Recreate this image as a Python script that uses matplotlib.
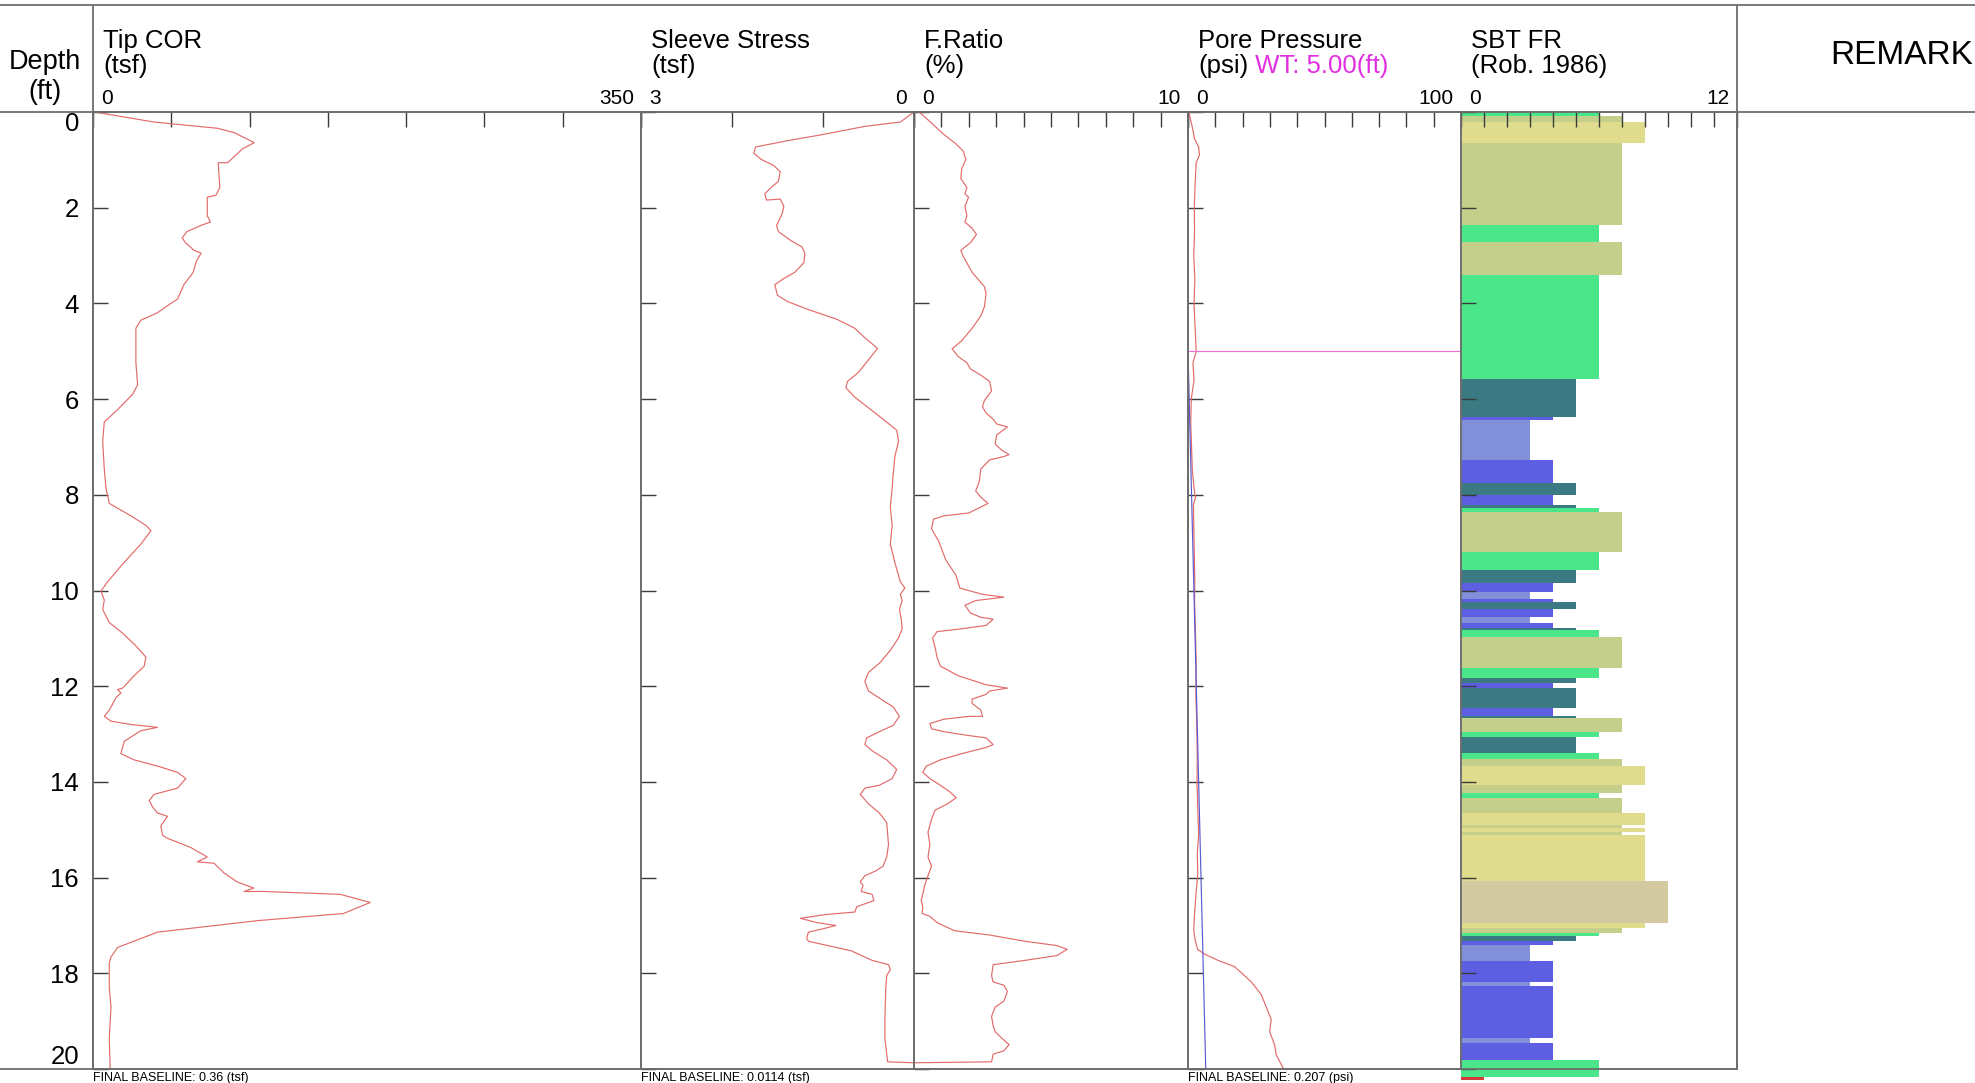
import matplotlib
matplotlib.use('Agg')
import matplotlib.pyplot as plt

plt.rcParams['font.family'] = ['Liberation Sans', 'DejaVu Sans']

W, H = 1975, 1083
TOP, BOT = 112, 1069          # pixel rows of the plotting area

# ---- CPT readings (depth in ft) ----
tip_depth = [0.0, 0.21, 0.34, 0.43, 0.64, 0.77, 1.06, 1.06, 1.58, 1.74, 1.78, 2.17, 2.30, 2.37,
             2.50, 2.63, 2.73, 2.89, 2.95, 3.12, 3.35, 3.61, 3.91, 4.0, 4.2, 4.35, 4.52, 5.24,
             5.70, 5.9, 6.22, 6.48, 6.88, 7.46, 7.86, 8.18, 8.44, 8.64, 8.75, 9.03, 9.49, 9.82,
             10.01, 10.2, 10.4, 10.67, 10.86, 11.12, 11.39, 11.58, 11.78, 12.04, 12.07, 12.14,
             12.24, 12.5, 12.63, 12.73, 12.8, 12.86, 12.93, 13.15, 13.41, 13.54, 13.67, 13.8,
             13.93, 14.13, 14.26, 14.39, 14.52, 14.65, 14.72, 14.92, 15.11, 15.18, 15.37, 15.57,
             15.67, 15.7, 15.9, 16.09, 16.22, 16.29, 16.29, 16.35, 16.52, 16.75, 16.9, 17.14,
             17.46, 17.66, 17.79, 18.31, 18.7, 19.36, 20.0]
tip_qc = [1, 39, 79.5, 90, 103, 95.5, 86, 80, 81, 78.5, 73, 73, 75, 69,
          60, 57, 59, 64.5, 69, 66, 64, 58, 54, 49.7, 41, 30.6, 27.4, 27.4,
          28.5, 25.3, 15.7, 7.2, 6.2, 7.2, 8.3, 10.4, 24.2, 33.8, 37, 30.6, 17.8, 9.3,
          5.1, 7.2, 6.2, 10.4, 17.8, 26.3, 33.8, 32.7, 26.3, 18.9, 15.7, 17.8,
          14.7, 10.4, 7.2, 11.5, 24.2, 41.2, 30.6, 20, 17.8, 26.3, 41.2, 54,
          59.3, 54, 39, 35.9, 38, 41.2, 47.6, 43.3, 44.4, 47.6, 62.4, 73,
          66.7, 77.3, 83.6, 92, 102.7, 96.4, 109, 158, 177, 160, 105, 41.2,
          15.7, 11.5, 10.4, 10.4, 11.5, 10.4, 11]

sleeve_depth = [0.0, 0.21, 0.3, 0.47, 0.6, 0.73, 0.86, 0.99, 1.12, 1.25, 1.45, 1.56, 1.71, 1.84,
                1.82, 1.97, 2.13, 2.37, 2.5, 2.69, 2.82, 2.95, 3.15, 3.35, 3.48, 3.61, 3.83, 3.96,
                4.13, 4.33, 4.52, 4.72, 4.94, 5.18, 5.44, 5.63, 5.76, 5.96, 6.42, 6.65, 6.88, 7.2,
                7.59, 7.86, 8.25, 8.64, 9.03, 9.42, 9.82, 9.95, 10.08, 10.21, 10.4, 10.6, 10.8,
                10.99, 11.25, 11.52, 11.71, 11.9, 12.1, 12.3, 12.43, 12.63, 12.82, 12.95, 13.08,
                13.22, 13.35, 13.54, 13.74, 13.93, 14.07, 14.13, 14.26, 14.46, 14.65, 14.85, 15.31,
                15.57, 15.76, 15.86, 15.96, 16.09, 16.16, 16.29, 16.35, 16.48, 16.61, 16.72, 16.77,
                16.85, 16.94, 17.0, 17.07, 17.14, 17.27, 17.33, 17.53, 17.73, 17.82, 17.92, 18.05,
                18.31, 18.97, 19.36, 19.85, 19.87]
sleeve_fs = [0.0, 0.15, 0.54, 1.0, 1.39, 1.74, 1.76, 1.68, 1.54, 1.47, 1.49, 1.56, 1.64, 1.62,
             1.47, 1.43, 1.45, 1.51, 1.49, 1.35, 1.23, 1.2, 1.21, 1.31, 1.43, 1.53, 1.50, 1.39,
             1.16, 0.85, 0.65, 0.54, 0.40, 0.50, 0.61, 0.73, 0.75, 0.65, 0.34, 0.19, 0.17, 0.21,
             0.23, 0.24, 0.26, 0.24, 0.26, 0.21, 0.15, 0.10, 0.15, 0.13, 0.16, 0.14, 0.13,
             0.17, 0.26, 0.38, 0.50, 0.54, 0.50, 0.34, 0.23, 0.16, 0.23, 0.38, 0.52,
             0.54, 0.46, 0.30, 0.19, 0.24, 0.38, 0.54, 0.59, 0.50, 0.38, 0.30, 0.28,
             0.30, 0.34, 0.42, 0.54, 0.59, 0.56, 0.58, 0.46, 0.44, 0.63, 0.65, 0.96,
             1.25, 1.07, 0.86, 1.0, 1.16, 1.18, 1.16, 0.69, 0.46, 0.28, 0.26, 0.30,
             0.31, 0.32, 0.32, 0.29, 0.0]

fr_depth = [0.0, 0.2, 0.47, 0.67, 0.82, 0.99, 1.19, 1.39, 1.58, 1.71, 1.78, 1.97, 2.17, 2.30,
            2.43, 2.56, 2.73, 2.89, 3.02, 3.35, 3.65, 3.8, 4.07, 4.26, 4.52, 4.78, 4.95, 5.11,
            5.24, 5.37, 5.50, 5.63, 5.83, 6.03, 6.16, 6.29, 6.42, 6.52, 6.58, 6.75, 6.94, 7.07,
            7.16, 7.2, 7.27, 7.46, 7.73, 7.92, 8.05, 8.18, 8.38, 8.44, 8.51, 8.71, 8.97, 9.36,
            9.69, 9.95, 10.08, 10.14, 10.21, 10.31, 10.47, 10.56, 10.6, 10.73, 10.8, 10.86,
            10.99, 11.19, 11.39, 11.58, 11.78, 11.97, 12.04, 12.1, 12.17, 12.27, 12.36, 12.5,
            12.63, 12.63, 12.69, 12.78, 12.89, 12.95, 13.02, 13.08, 13.22, 13.28, 13.41, 13.54,
            13.67, 13.8, 13.93, 14.07, 14.2, 14.33, 14.46, 14.59, 14.78, 15.05, 15.31, 15.57,
            15.76, 15.96, 16.16, 16.35, 16.48, 16.61, 16.75, 16.81, 16.94, 17.11, 17.2, 17.33,
            17.42, 17.5, 17.63, 17.73, 17.82, 18.05, 18.18, 18.25, 18.38, 18.58, 18.71, 18.9,
            19.1, 19.22, 19.36, 19.49, 19.62, 19.69, 19.85, 19.87]
fr_pct = [0.19, 0.58, 1.09, 1.54, 1.8, 1.89, 1.74, 1.71, 1.93, 1.86, 1.99, 1.86, 1.93, 1.86,
          2.12, 2.28, 2.06, 1.71, 1.8, 2.12, 2.57, 2.63, 2.57, 2.44, 2.12, 1.74, 1.39, 1.61,
          1.93, 2.06, 2.44, 2.76, 2.83, 2.57, 2.5, 2.63, 2.89, 3.02, 3.41, 3.02, 2.96, 3.21,
          3.47, 3.28, 2.76, 2.44, 2.38, 2.25, 2.44, 2.70, 2.0, 1.09, 0.71, 0.64, 0.9, 1.16,
          1.54, 1.67, 2.5, 3.28, 2.25, 1.86, 2.06, 2.44, 2.89, 2.63, 1.74, 0.84,
          0.68, 0.77, 0.84, 0.96, 1.61, 2.63, 3.41, 2.76, 2.63, 2.12, 2.12, 2.44,
          2.5, 2.0, 1.09, 0.58, 0.64, 1.09, 1.86, 2.63, 2.89, 2.63, 1.74, 0.96,
          0.45, 0.32, 0.58, 0.96, 1.29, 1.54, 1.22, 0.77, 0.64, 0.51, 0.58, 0.51,
          0.64, 0.51, 0.39, 0.32, 0.26, 0.32, 0.30, 0.58, 0.84, 1.48, 2.76, 4.05,
          5.21, 5.59, 5.21, 4.05, 2.89, 2.83, 2.89, 3.28, 3.41, 3.28, 2.96, 2.83,
          2.89, 2.96, 3.21, 3.47, 3.28, 2.89, 2.83, 0.0]

pore_depth = [0.0, 0.3, 0.56, 0.73, 0.9, 1.06, 1.5, 2.0, 2.5, 3.0, 3.5, 4.0, 4.5, 5.0, 5.25,
              5.6, 6.0, 6.5, 7.0, 7.5, 7.95, 8.05, 8.2, 8.6, 9.2, 9.8, 10.2, 10.8, 11.5, 12.2,
              12.8, 13.5, 14.0, 14.6, 15.1, 15.5, 15.9, 16.3, 16.75, 17.1, 17.3, 17.5, 17.6,
              17.73, 17.86, 18.05, 18.18, 18.44, 18.71, 18.97, 19.22, 19.49, 19.7, 19.9, 20.05]
pore_u = [0.3, 1.5, 2.4, 3.9, 4.2, 3.0, 2.6, 2.3, 2.4, 2.1, 2.5, 2.2, 2.6, 3.0, 1.8,
          2.2, 1.2, 1.0, 1.3, 1.6, 2.4, 2.8, 2.0, 2.1, 2.3, 2.5, 2.4, 2.7, 3.0, 2.9,
          3.2, 3.4, 3.3, 3.6, 3.9, 3.4, 3.6, 3.0, 2.4, 2.1, 2.6, 3.5, 6.1,
          11.0, 17.0, 20.7, 23.2, 26.8, 28.7, 30.5, 29.9, 31.7, 32.3, 34.1, 35.5]

water_table = 5.0
hydro_depth = [5.0, 20.0]
hydro_u = [0.0, 6.5]

# SBT (Robertson 1986) layers: top depth, zone number; last layer ends at sbt_base
sbt_top = [0.00, 0.08, 0.20, 0.65, 2.36, 2.71, 3.41, 5.57, 6.37, 6.44, 7.27, 7.76, 8.00, 8.21,
           8.28, 8.35, 9.20, 9.58, 9.84, 10.04, 10.18, 10.23, 10.38, 10.56, 10.68, 10.79, 10.82,
           10.97, 11.61, 11.82, 11.93, 12.03, 12.46, 12.62, 12.67, 12.96, 13.06, 13.40, 13.52,
           13.67, 14.06, 14.24, 14.34, 14.64, 14.90, 14.97, 15.04, 15.12, 16.08, 16.94, 17.06,
           17.16, 17.22, 17.33, 17.40, 17.74, 18.18, 18.27, 19.35, 19.45, 19.81, 20.17]
sbt_zone = [6, 7, 8, 7, 6, 7, 6, 5, 4, 3, 4, 5, 4, 5,
            6, 7, 6, 5, 4, 3, 4, 5, 4, 3, 4, 5, 6,
            7, 6, 5, 4, 5, 4, 5, 7, 6, 5, 6, 7,
            8, 7, 6, 7, 8, 7, 8, 7, 8, 9, 8, 7,
            6, 5, 4, 3, 4, 3, 4, 3, 4, 6, 1]
sbt_base = 20.24
zone_colors = {1: '#d23c3c', 3: '#8290da', 4: '#5e5ee2', 5: '#3b7a82', 6: '#4ce68a',
               7: '#c3cf8a', 8: '#dfdc8e', 9: '#d3caa2'}

depth_ticks = list(range(0, 21, 2))

# ---- figure ----
fig = plt.figure(figsize=(W / 100, H / 100), dpi=100)

bg = fig.add_axes([0, 0, 1, 1], zorder=0)
bg.set_xlim(0, W)
bg.set_ylim(H, 0)
bg.axis('off')

frame = dict(color='#6e6e6e', lw=1.3, solid_capstyle='butt')
bg.plot([0, W], [5, 5], **frame)
bg.plot([0, W], [TOP, TOP], **frame)
bg.plot([0, 1737], [BOT, BOT], **frame)
bg.plot([93, 93], [5, BOT], **frame)
bg.plot([1737, 1737], [5, BOT], **frame)

bg.text(45, 62, 'Depth', fontsize=19.5, ha='center', va='center')
bg.text(45, 92, '(ft)', fontsize=19.5, ha='center', va='center')
bg.text(1973, 56, 'REMARK', fontsize=24, ha='right', va='center')

red = '#e26a6a'


def panel(x0, x1, xlim, xticks, title, unit, lo, hi, baseline=None):
    ax = fig.add_axes([x0 / W, 1 - BOT / H, (x1 - x0) / W, (BOT - TOP) / H], zorder=2)
    ax.set_facecolor('none')
    ax.set_xlim(*xlim)
    ax.set_ylim(20, 0)
    ax.xaxis.tick_top()
    ax.set_xticks(xticks)
    ax.set_xticklabels([])
    ax.set_yticks(depth_ticks)
    ax.set_yticklabels([])
    ax.tick_params(axis='both', direction='in', length=11, width=1.0, color='#3a3a3a')
    for s in ax.spines.values():
        s.set_color('#6e6e6e')
        s.set_linewidth(1.3)
    ax.annotate(title, (0, 1), xycoords='axes fraction', xytext=(10, 71),
                textcoords='offset pixels', fontsize=18.5, ha='left', va='center')
    unit_txt = ax.annotate(unit, (0, 1), xycoords='axes fraction', xytext=(10, 46),
                           textcoords='offset pixels', fontsize=18.5, ha='left', va='center')
    ax.annotate(lo, (0, 1), xycoords='axes fraction', xytext=(8, 14),
                textcoords='offset pixels', fontsize=15, ha='left', va='center')
    ax.annotate(hi, (1, 1), xycoords='axes fraction', xytext=(-7, 14),
                textcoords='offset pixels', fontsize=15, ha='right', va='center')
    if baseline:
        ax.annotate(baseline, (0, 0), xycoords='axes fraction', xytext=(0, -9),
                    textcoords='offset pixels', fontsize=9, ha='left', va='center')
    return ax, unit_txt


ax_tip, _ = panel(93, 641, (0, 350), range(0, 351, 50), 'Tip COR', '(tsf)', '0', '350',
                  'FINAL BASELINE: 0.36 (tsf)')
ax_fs, _ = panel(641, 914, (3, 0), [0, 1, 2, 3], 'Sleeve Stress', '(tsf)', '3', '0',
                 'FINAL BASELINE: 0.0114 (tsf)')
ax_fr, _ = panel(914, 1188, (0, 10), range(0, 11), 'F.Ratio', '(%)', '0', '10')
ax_u, psi_txt = panel(1188, 1461, (0, 100), range(0, 101, 10), 'Pore Pressure', '(psi)', '0', '100',
                      'FINAL BASELINE: 0.207 (psi)')
ax_sbt, _ = panel(1461, 1737, (0, 12), range(0, 13), 'SBT FR', '(Rob. 1986)', '0', '12')

ax_u.annotate(f' WT: {water_table:.2f}(ft)', (1, 0.5), xycoords=psi_txt, va='center',
              ha='left', fontsize=18.5, color='#e02ee0')

# depth labels on the left of the first track
ax_tip.set_yticklabels([str(d) for d in depth_ticks], fontsize=18.5)
ax_tip.tick_params(axis='y', pad=10)
labels = ax_tip.get_yticklabels()
labels[0].set_va('top')
labels[-1].set_va('bottom')

ax_tip.plot(tip_qc, tip_depth, color=red, lw=0.85)
ax_fs.plot(sleeve_fs, sleeve_depth, color=red, lw=0.85)
ax_fr.plot(fr_pct, fr_depth, color=red, lw=0.85)
ax_u.plot(pore_u, pore_depth, color=red, lw=0.85)
ax_u.plot(hydro_u, hydro_depth, color='#5a5ad0', lw=0.85)
ax_u.plot([0, 100], [water_table, water_table], color='#f070d0', lw=0.85)

bottoms = sbt_top[1:] + [sbt_base]
for top, bot, zone in zip(sbt_top, bottoms, sbt_zone):
    ax_sbt.barh(top, zone, height=bot - top, left=0, align='edge',
                color=zone_colors[zone], clip_on=False, zorder=1)

fig.savefig('out.png', dpi=100)
